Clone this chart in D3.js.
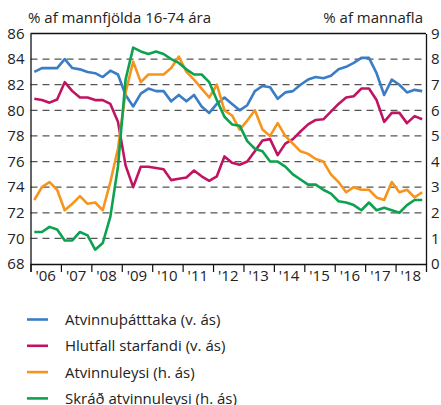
<!DOCTYPE html>
<html lang="is">
<head>
  <meta charset="UTF-8">
  <title>Atvinnuþátttaka og atvinnuleysi</title>
  <script src="https://d3js.org/d3.v7.min.js"></script>
  <style>
    body { margin: 0; background: #fff; }
    svg text { font-family: "Open Sans", "Noto Sans", sans-serif; fill: #222; }
  </style>
</head>
<body>
  <svg id="chart" width="441" height="405"></svg>
  <script>
    // quarterly values 2006Q1 - 2018Q4
    const years = ["'06", "'07", "'08", "'09", "'10", "'11", "'12", "'13", "'14", "'15", "'16", "'17", "'18"];

    // left axis (% af mannfjölda 16-74 ára)
    const atvinnuthatttaka = [83.0, 83.3, 83.3, 83.3, 84.0, 83.3, 83.2, 83.0, 82.9, 82.6, 83.1, 82.8,
      81.2, 80.3, 81.3, 81.7, 81.5, 81.5, 80.7, 81.2, 80.7, 81.2, 80.3, 79.8,
      80.5, 81.0, 80.5, 80.0, 80.4, 81.5, 81.9, 81.8, 80.9, 81.4, 81.5, 82.0,
      82.4, 82.6, 82.5, 82.7, 83.2, 83.4, 83.7, 84.1, 84.1, 82.9, 81.2, 82.4,
      82.0, 81.4, 81.6, 81.5];
    const hlutfallStarfandi = [80.9, 80.8, 80.6, 80.85, 82.2, 81.5, 81.0, 81.0, 80.8, 80.8, 80.5, 79.1,
      75.7, 74.0, 75.6, 75.6, 75.5, 75.4, 74.55, 74.65, 74.75, 75.3, 74.85, 74.5,
      74.85, 76.4, 75.9, 75.75, 76.0, 76.8, 77.65, 77.75, 76.5, 77.4, 77.75, 78.35,
      78.9, 79.25, 79.3, 79.9, 80.5, 81.0, 81.1, 81.7, 81.7, 80.8, 79.1, 79.8,
      79.8, 79.0, 79.55, 79.3];

    // right axis (% af mannafla)
    const atvinnuleysi = [2.5, 3.0, 3.2, 2.9, 2.1, 2.35, 2.65, 2.35, 2.4, 2.1, 3.2, 4.5,
      6.7, 7.9, 7.1, 7.4, 7.4, 7.4, 7.65, 8.1, 7.5, 7.2, 6.85, 6.5,
      7.0, 6.0, 5.8, 5.25, 5.6, 6.0, 5.25, 5.0, 5.5, 5.0, 4.7, 4.4,
      4.3, 4.1, 4.0, 3.5, 3.2, 2.8, 3.0, 2.9, 2.9, 2.6, 2.5, 3.2,
      2.8, 2.9, 2.6, 2.8];
    const skradAtvinnuleysi = [1.25, 1.25, 1.45, 1.35, 0.92, 0.92, 1.25, 1.12, 0.56, 0.82, 1.85, 3.8,
      7.2, 8.45, 8.3, 8.2, 8.3, 8.2, 8.0, 7.85, 7.6, 7.4, 7.4, 7.1,
      6.4, 5.75, 5.45, 5.4, 4.8, 4.5, 4.4, 4.0, 4.0, 3.8, 3.5, 3.3,
      3.1, 3.1, 2.9, 2.75, 2.45, 2.4, 2.3, 2.1, 2.4, 2.1, 2.2, 2.1,
      2.0, 2.3, 2.5, 2.5];

    const leftTicks = [68, 70, 72, 74, 76, 78, 80, 82, 84, 86];
    const rightTicks = [0, 1, 2, 3, 4, 5, 6, 7, 8, 9];

    const series = [
      { name: "Atvinnuþátttaka (v. ás)", values: atvinnuthatttaka, axis: "left", color: "#3a7dc6" },
      { name: "Hlutfall starfandi (v. ás)", values: hlutfallStarfandi, axis: "left", color: "#c01463" },
      { name: "Atvinnuleysi (h. ás)", values: atvinnuleysi, axis: "right", color: "#f7941d" },
      { name: "Skráð atvinnuleysi (h. ás)", values: skradAtvinnuleysi, axis: "right", color: "#0ca24f" }
    ];

    const svg = d3.select("#chart");
    const m = { left: 30.5, right: 426, top: 33.5, bottom: 264 };

    const x = d3.scaleLinear().domain([0, years.length]).range([m.left, m.right]);
    const yL = d3.scaleLinear().domain([68, 86]).range([m.bottom, m.top]);
    const yR = d3.scaleLinear().domain([0, 9]).range([m.bottom, m.top]);

    // dashed grid
    svg.append("g").selectAll("line")
      .data(leftTicks.filter(d => d > 68 && d < 86))
      .enter().append("line")
      .attr("x1", m.left).attr("x2", m.right)
      .attr("y1", d => yL(d)).attr("y2", d => yL(d))
      .attr("stroke", "#555").attr("stroke-width", 1.3)
      .attr("stroke-dasharray", "7,5");

    // frame top
    svg.append("line")
      .attr("x1", m.left).attr("x2", m.right)
      .attr("y1", m.top).attr("y2", m.top)
      .attr("stroke", "#111").attr("stroke-width", 1.3);

    // left axis
    const gL = svg.append("g").attr("transform", `translate(${m.left},0)`)
      .call(d3.axisLeft(yL).tickValues(leftTicks).tickSize(0).tickPadding(6));
    gL.select(".domain").attr("stroke", "#111").attr("stroke-width", 1.3);
    gL.selectAll("text").style("font-size", "15px").style("font-family", '"Open Sans", sans-serif').attr("fill", "#222");

    // right axis
    const gR = svg.append("g").attr("transform", `translate(${m.right},0)`)
      .call(d3.axisRight(yR).tickValues(rightTicks).tickSize(0).tickPadding(5));
    gR.select(".domain").attr("stroke", "#111").attr("stroke-width", 1.3);
    gR.selectAll("text").style("font-size", "15px").style("font-family", '"Open Sans", sans-serif').attr("fill", "#222");

    // bottom axis: ticks at year boundaries, labels centred in year
    const gB = svg.append("g").attr("transform", `translate(0,${m.bottom})`)
      .call(d3.axisBottom(x).tickValues(d3.range(0, years.length)).tickSize(8).tickFormat(""));
    gB.select(".domain").attr("stroke", "#111").attr("stroke-width", 1.3);
    gB.selectAll(".tick line").attr("stroke", "#111").attr("stroke-width", 1.2);
    svg.append("g").selectAll("text")
      .data(years)
      .enter().append("text")
      .attr("x", (d, i) => x(i + 0.5))
      .attr("y", m.bottom + 17)
      .attr("text-anchor", "middle")
      .style("font-size", "15px")
      .text(d => d);

    // lines
    const lineFor = s => d3.line()
      .x((d, i) => x((i + 0.5) / 4))
      .y(d => (s.axis === "left" ? yL : yR)(d));

    svg.append("g").selectAll("path")
      .data(series)
      .enter().append("path")
      .attr("fill", "none")
      .attr("stroke", d => d.color)
      .attr("stroke-width", 2.6)
      .attr("stroke-linejoin", "round")
      .attr("d", d => lineFor(d)(d.values));

    // axis titles
    svg.append("text").attr("x", 28).attr("y", 23).style("font-size", "15px").text("% af mannfjölda 16-74 ára");
    svg.append("text").attr("x", 423).attr("y", 23).attr("text-anchor", "end").style("font-size", "15px").text("% af mannafla");

    // legend
    const leg = svg.append("g").selectAll("g")
      .data(series)
      .enter().append("g")
      .attr("transform", (d, i) => `translate(0,${319.5 + i * 26.3})`);
    leg.append("line")
      .attr("x1", 27).attr("x2", 48)
      .attr("stroke", d => d.color).attr("stroke-width", 2.6);
    leg.append("text")
      .attr("x", 65).attr("y", 5.5)
      .style("font-size", "15px")
      .text(d => d.name);
  </script>
</body>
</html>
